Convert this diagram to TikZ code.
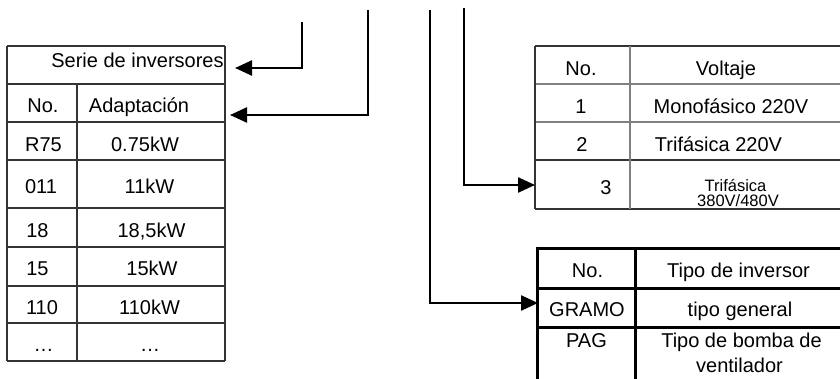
\documentclass[tikz,border=0pt]{standalone}
\usepackage{fontspec}
\setmainfont{Liberation Sans}
\usetikzlibrary{arrows.meta}
\begin{document}
\begin{tikzpicture}[x=1pt,y=-1pt,
  txt/.style={inner sep=0pt,anchor=base,font=\fontsize{20}{24}\selectfont},
  small/.style={inner sep=0pt,anchor=base,font=\fontsize{16.5}{18}\selectfont},
  thin line/.style={draw=black!80,line width=1.1pt},
  grey line/.style={draw=black!50,line width=1.1pt},
  thick line/.style={draw=black,line width=3pt},
  conn/.style={draw=black,line width=2.4pt,-{Triangle[length=17pt,width=15pt]}}]
\useasboundingbox (0,0) rectangle (840,379);
\begin{scope}
\clip (0,0) rectangle (840,379);
% left table
\foreach \yy in {46,84,122,160,208,247,286,323,361}
  \draw[thin line] (7,\yy) -- (225,\yy);
\draw[thin line] (7,46) -- (7,361);
\draw[thin line] (225,46) -- (225,361);
\draw[thin line] (77,84) -- (77,361);
% right top table
\draw[thin line] (535,46) -- (850,46);
\draw[grey line] (535,84) -- (850,84);
\draw[grey line] (535,122) -- (850,122);
\draw[thin line] (535,160) -- (850,160);
\draw[thin line] (535,209) -- (850,209);
\draw[thin line] (535,46) -- (535,209);
\draw[grey line] (630,46) -- (630,209);
% bottom right table
\foreach \yy in {249,288,327}
  \draw[thick line] (537,\yy) -- (850,\yy);
\draw[thick line] (537,247) -- (537,390);
\draw[thick line] (635,249) -- (635,390);
\end{scope}
% texts left table
\node[txt] (serie) at (137.5,68) {Serie de inversores};
\node[txt] (no1) at (43,113) {No.};
\node[txt] (adap) at (139,113) {Adaptación};
\node[txt] (r75) at (43.5,152) {R75};
\node[txt] (p075) at (145,152) {0.75kW};
\node[txt] (n011) at (41,194) {011};
\node[txt] (p11) at (149.5,194) {11kW};
\node[txt] (n18) at (37.5,238) {18};
\node[txt] (p185) at (151.5,238) {18,5kW};
\node[txt] (n15) at (37.5,276) {15};
\node[txt] (p15) at (152,276) {15kW};
\node[txt] (n110) at (42,314) {110};
\node[txt] (p110) at (149.5,314) {110kW};
\node[txt] (d1) at (43.5,351) {\dots};
\node[txt] (d2) at (150,351) {\dots};
% texts right top table
\node[txt] (no2) at (581,76) {No.};
\node[txt] (volt) at (726,76) {Voltaje};
\node[txt] (v1) at (581,114) {1};
\node[txt] (mono) at (731,114) {Monofásico 220V};
\node[txt] (v2) at (582,152) {2};
\node[txt] (tri) at (718.5,152) {Trifásica 220V};
\node[txt] (v3) at (606,195) {3};
\node[small] (tri3a) at (735.5,192) {Trifásica};
\node[small] (tri3b) at (738,207) {380V/480V};
% texts bottom right table
\node[txt] (no3) at (587.5,277) {No.};
\node[txt] (tipo) at (738.5,277) {Tipo de inversor};
\node[txt] (gramo) at (587,316) {GRAMO};
\node[txt] (gen) at (740,316) {tipo general};
\node[txt] (pag) at (586.5,347) {PAG};
\node[txt] (bomba) at (741.5,347) {Tipo de bomba de};
\node[txt] (vent) at (739.5,372) {ventilador};
% connector endpoints
\coordinate (s1) at (302,22);
\coordinate (e1) at (235,68);
\coordinate (s2) at (368,10);
\coordinate (e2) at (230,115);
\coordinate (s3) at (464,8);
\coordinate (e3) at (535,185);
\coordinate (s4) at (430,10);
\coordinate (e4) at (538,303);
\draw[conn] (s1) |- (e1);
\draw[conn] (s2) |- (e2);
\draw[conn] (s3) |- (e3);
\draw[conn] (s4) |- (e4);
\end{tikzpicture}
\end{document}
